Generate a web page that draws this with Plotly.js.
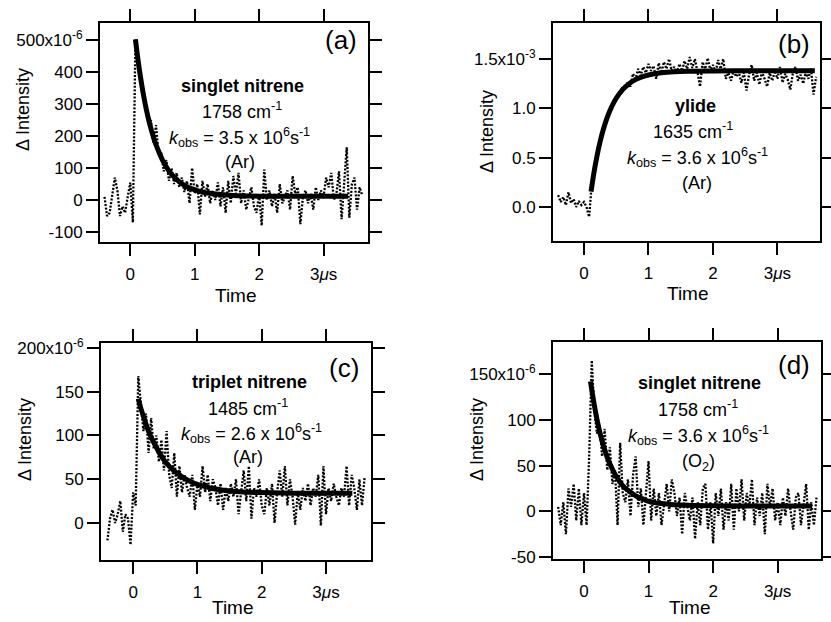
<!DOCTYPE html>
<html>
<head>
<meta charset="utf-8">
<script src="https://cdn.plot.ly/plotly-3.0.1.min.js"></script>
<style>html,body{margin:0;padding:0;background:#fff;}#chart{width:831px;height:622px;}</style>
</head>
<body>
<div id="chart"></div>
<script>
// Shared time base (microseconds)
const time = [
 -0.40,-0.36,-0.32,-0.28,-0.24,-0.20,-0.16,-0.12,-0.08,-0.04,
 0.00,0.04,0.08,0.12,0.16,0.20,0.24,0.28,0.32,0.36,
 0.40,0.44,0.48,0.52,0.56,0.60,0.64,0.68,0.72,0.76,
 0.80,0.84,0.88,0.92,0.96,1.00,1.04,1.08,1.12,1.16,
 1.20,1.24,1.28,1.32,1.36,1.40,1.44,1.48,1.52,1.56,
 1.60,1.64,1.68,1.72,1.76,1.80,1.84,1.88,1.92,1.96,
 2.00,2.04,2.08,2.12,2.16,2.20,2.24,2.28,2.32,2.36,
 2.40,2.44,2.48,2.52,2.56,2.60,2.64,2.68,2.72,2.76,
 2.80,2.84,2.88,2.92,2.96,3.00,3.04,3.08,3.12,3.16,
 3.20,3.24,3.28,3.32,3.36,3.40,3.44,3.48,3.52,3.56,
 3.60];

// (a) singlet nitrene 1758 cm-1 (Ar), units 1e-6
const dataA = [
 10,-50,-40,20,70,30,-50,-20,-40,10,
 55,-70,502,440,400,340,300,240,250,180,
 234,140,150,90,125,60,100,50,85,40,
 70,25,60,-10,100,20,50,-45,60,10,
 50,-10,30,0,55,-20,40,-40,60,-10,
 75,20,85,-10,30,-30,10,40,-20,-40,
 20,-80,95,0,30,-20,20,-40,50,-10,
 10,30,-30,75,20,40,-75,10,30,-10,
 20,-30,40,0,30,10,70,40,85,0,
 20,90,-60,60,165,-55,50,70,-30,40,
 15];
const fitTimeA = [0.08,0.12,0.16,0.2,0.25,0.3,0.35,0.4,0.5,0.6,0.7,0.8,0.9,1.0,1.1,1.2,1.4,1.6,1.8,2.0,2.5,3.0,3.38];
const fitA = [502,438,382,334,282,239,203,172,125,91,68,51,40,32,26,22,17,14,13,12,12,12,12];

// (b) ylide 1635 cm-1 (Ar), units 1e-3
const dataB = [
 0.12,0.05,0.10,0.02,0.15,0.04,0.08,0.00,0.06,0.02,
 0.05,0.00,-0.10,0.22,0.38,0.50,0.66,0.72,0.84,0.90,
 0.98,1.02,1.10,1.12,1.15,1.22,1.20,1.27,1.22,1.35,
 1.30,1.40,1.33,1.42,1.36,1.45,1.38,1.43,1.30,1.46,
 1.36,1.47,1.40,1.50,1.38,1.42,1.36,1.45,1.38,1.48,
 1.40,1.52,1.41,1.50,1.37,1.22,1.47,1.40,1.51,1.38,
 1.44,1.36,1.49,1.40,1.50,1.30,1.36,1.28,1.38,1.32,
 1.37,1.26,1.36,1.18,1.34,1.44,1.28,1.36,1.24,1.37,
 1.30,1.22,1.36,1.28,1.38,1.30,1.42,1.26,1.35,1.29,
 1.19,1.36,1.42,1.28,1.34,1.25,1.37,1.30,1.40,1.14,
 1.32];
const fitTimeB = [0.11,0.15,0.2,0.25,0.3,0.35,0.4,0.5,0.6,0.7,0.8,0.9,1.0,1.2,1.4,1.6,2.0,2.5,3.0,3.58];
const fitB = [0.155,0.328,0.51,0.661,0.785,0.888,0.973,1.102,1.19,1.25,1.291,1.319,1.338,1.36,1.371,1.376,1.379,1.38,1.38,1.38];

// (c) triplet nitrene 1485 cm-1 (Ar), units 1e-6
const dataC = [
 -20,5,15,0,10,25,-10,10,5,-25,
 35,20,168,140,105,125,80,120,85,100,
 70,95,60,105,55,40,80,30,65,35,
 55,40,30,55,15,45,30,65,35,55,
 25,50,40,20,45,15,40,25,45,30,
 50,10,35,60,25,65,5,40,30,50,
 20,10,40,20,45,0,35,60,30,65,
 20,50,30,-2,35,15,40,25,45,20,
 40,30,55,-3,65,10,40,25,45,30,
 20,40,30,65,20,55,40,15,50,20,
 52];
const fitTimeC = [0.08,0.12,0.16,0.2,0.25,0.3,0.35,0.4,0.5,0.6,0.7,0.8,0.9,1.0,1.2,1.4,1.6,1.8,2.0,2.5,3.0,3.41];
const fitC = [142,131,122,113,103,95,88,81,70,62,56,51,47,44,40,37.5,36,35,34.7,34.1,34,34];

// (d) singlet nitrene 1758 cm-1 (O2), units 1e-6
const dataD = [
 5,-15,10,-25,25,5,30,-10,25,-15,
 20,-15,60,165,110,85,95,60,90,45,
 70,30,45,-15,75,20,10,35,-5,40,
 60,5,25,-15,20,55,-10,25,-5,20,
 -15,10,30,0,35,20,-5,15,-25,20,
 5,-10,15,-30,10,-15,25,30,-20,10,
 -35,20,-5,25,-20,10,-10,30,-20,25,
 0,35,-10,20,5,35,-15,15,-5,20,
 -25,30,5,25,-10,10,-15,15,-5,25,
 0,-20,15,20,-15,5,30,-20,10,-15,
 15];
const fitTimeD = [0.1,0.12,0.16,0.2,0.25,0.3,0.35,0.4,0.5,0.6,0.7,0.8,0.9,1.0,1.2,1.4,1.6,2.0,2.5,3.0,3.53];
const fitD = [142,133,116,101,85,72,61,52,38,28,22,17,14,11,8.6,7.3,6.6,6.1,6,6,6];

// Tick labels
const xTickVals = [0,1,2,3];
const xTickText = ["0","1","2","3<i>μ</i>s"];
const yTickValsA = [-100,0,100,200,300,400,500];
const yTickTextA = ["-100","0","100","200","300","400","500x10<sup>-6</sup>"];
const yTickValsB = [0,0.5,1.0,1.5];
const yTickTextB = ["0.0","0.5","1.0","1.5x10<sup>-3</sup>"];
const yTickValsC = [0,50,100,150,200];
const yTickTextC = ["0","50","100","150","200x10<sup>-6</sup>"];
const yTickValsD = [-50,0,50,100,150];
const yTickTextD = ["-50","0","50","100","150x10<sup>-6</sup>"];

const FONT = "Liberation Sans, Arial, Helvetica, sans-serif";
const W = 831, H = 622;
const px = v => v / W;
const py = v => 1 - v / H;

function dataTrace(x, y, xa, ya) {
  return {x: x, y: y, xaxis: xa, yaxis: ya, type: 'scatter', mode: 'lines',
    line: {color: '#000', width: 2.3, dash: '2px,1.6px'}, hoverinfo: 'skip'};
}
function fitTrace(x, y, xa, ya) {
  return {x: x, y: y, xaxis: xa, yaxis: ya, type: 'scatter', mode: 'lines',
    line: {color: '#000', width: 5, shape: 'spline'}, hoverinfo: 'skip'};
}

const traces = [
  dataTrace(time, dataA, 'x', 'y'), fitTrace(fitTimeA, fitA, 'x', 'y'),
  dataTrace(time, dataB, 'x2', 'y2'), fitTrace(fitTimeB, fitB, 'x2', 'y2'),
  dataTrace(time, dataC, 'x3', 'y3'), fitTrace(fitTimeC, fitC, 'x3', 'y3'),
  dataTrace(time, dataD, 'x4', 'y4'), fitTrace(fitTimeD, fitD, 'x4', 'y4')
];

function axisBase(extra) {
  return Object.assign({
    showgrid: false, zeroline: false, showline: true, linecolor: '#000', linewidth: 2,
    mirror: 'ticks', ticks: 'outside', ticklen: 12, tickwidth: 2, tickcolor: '#000',
    tickfont: {family: FONT, size: 17, color: '#000'}, tickmode: 'array', fixedrange: true
  }, extra);
}
const xs = {ticklabelstandoff: 4};

const layout = {
  width: W, height: H, showlegend: false,
  margin: {l: 0, r: 0, t: 0, b: 0},
  paper_bgcolor: '#fff', plot_bgcolor: '#fff',
  font: {family: FONT, color: '#000', size: 17},
  xaxis:  axisBase(Object.assign({domain: [px(100), px(368)], range: [-0.47, 3.69], anchor: 'y', tickvals: xTickVals, ticktext: xTickText}, xs)),
  yaxis:  axisBase({domain: [py(242), py(23)], range: [-131, 553], anchor: 'x', tickvals: yTickValsA, ticktext: yTickTextA}),
  xaxis2: axisBase(Object.assign({domain: [px(553), px(820)], range: [-0.48, 3.66], anchor: 'y2', tickvals: xTickVals, ticktext: xTickText}, xs)),
  yaxis2: axisBase({domain: [py(241), py(23)], range: [-0.345, 1.865], anchor: 'x2', tickvals: yTickValsB, ticktext: yTickTextB}),
  xaxis3: axisBase(Object.assign({domain: [px(101), px(371)], range: [-0.5, 3.7], anchor: 'y3', tickvals: xTickVals, ticktext: xTickText}, xs)),
  yaxis3: axisBase({domain: [py(560), py(343)], range: [-42.3, 205.7], anchor: 'x3', tickvals: yTickValsC, ticktext: yTickTextC}),
  xaxis4: axisBase(Object.assign({domain: [px(553), px(821)], range: [-0.48, 3.67], anchor: 'y4', tickvals: xTickVals, ticktext: xTickText}, xs)),
  yaxis4: axisBase({domain: [py(559), py(342)], range: [-52, 185], anchor: 'x4', tickvals: yTickValsD, ticktext: yTickTextD}),
  annotations: []
};

function note(text, x, y, size, extra) {
  layout.annotations.push(Object.assign({
    text: text, x: px(x), y: py(y), xref: 'paper', yref: 'paper',
    xanchor: 'center', yanchor: 'middle', showarrow: false,
    font: {family: FONT, size: size, color: '#000'}
  }, extra || {}));
}

// Axis titles
note("Δ Intensity", 23, 110, 18, {textangle: -90});
note("Δ Intensity", 487, 131, 18, {textangle: -90});
note("Δ Intensity", 25, 440, 18, {textangle: -90});
note("Δ Intensity", 477, 440, 18, {textangle: -90});
note("Time", 236, 295, 19);
note("Time", 688, 293, 19);
note("Time", 233, 607, 19);
note("Time", 690, 607, 19);

// Panel labels
note("(a)", 341, 40, 26);
note("(b)", 794, 44, 26);
note("(c)", 344, 368, 26);
note("(d)", 794, 365, 26);

// Panel texts
const kobs = v => "<i>k</i><sub>obs</sub> = " + v + " x 10<sup>6</sup>s<sup>-1</sup>";
note("<b>singlet nitrene</b>", 242, 86, 18);
note("1758 cm<sup>-1</sup>", 242, 110, 18);
note(kobs("3.5"), 239, 137, 18);
note("(Ar)", 240, 162, 18);

note("<b>ylide</b>", 695, 106, 18);
note("1635 cm<sup>-1</sup>", 693, 130, 18);
note(kobs("3.6"), 697, 157, 18);
note("(Ar)", 697, 183, 18);

note("<b>triplet nitrene</b>", 249, 382, 18);
note("1485 cm<sup>-1</sup>", 248, 407, 18);
note(kobs("2.6"), 251, 433, 18);
note("(Ar)", 248, 457, 18);

note("<b>singlet nitrene</b>", 699, 383, 18);
note("1758 cm<sup>-1</sup>", 698, 408, 18);
note(kobs("3.6"), 698, 435, 18);
note("(O<sub>2</sub>)", 698, 462, 18);

Plotly.newPlot('chart', traces, layout, {staticPlot: true, displayModeBar: false});
</script>
</body>
</html>
